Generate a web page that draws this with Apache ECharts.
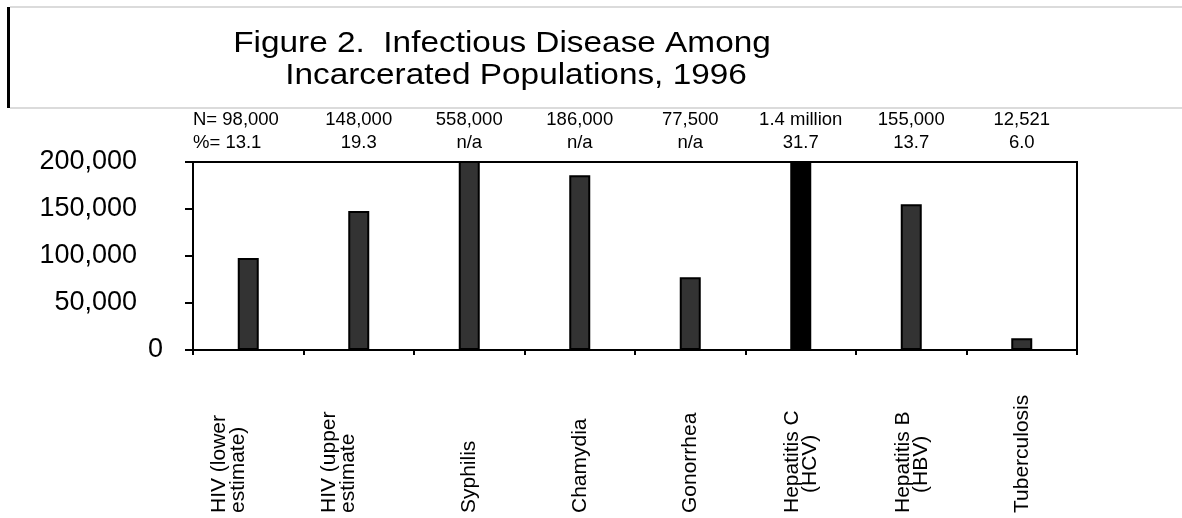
<!DOCTYPE html>
<html>
<head>
<meta charset="utf-8">
<script src="https://cdn.jsdelivr.net/npm/echarts@6/dist/echarts.min.js"></script>
<style>
html, body { margin: 0; padding: 0; background: #fff; }
#chart { width: 1182px; height: 518px; }
</style>
</head>
<body>
<div id="chart"></div>
<script>
const titleLines = ['Figure 2.  Infectious Disease Among', 'Incarcerated Populations, 1996'];
const categories = ['HIV (lower\nestimate)', 'HIV (upper\nestimate', 'Syphilis', 'Chamydia', 'Gonorrhea', 'Hepatitis C\n(HCV)', 'Hepatitis B\n(HBV)', 'Tuberculosis'];
const cases = [98000, 148000, 558000, 186000, 77500, 1400000, 155000, 12521];
const nLabels = ['N= 98,000', '148,000', '558,000', '186,000', '77,500', '1.4 million', '155,000', '12,521'];
const pctLabels = ['%= 13.1', '19.3', 'n/a', 'n/a', 'n/a', '31.7', '13.7', '6.0'];
const yMin = 0, yMax = 200000, yStep = 50000;

const FONT = '"Liberation Sans", Arial, sans-serif';
const chart = echarts.init(document.getElementById('chart'), null, { renderer: 'canvas' });

const option = {
  backgroundColor: '#fff',
  animation: false,
  graphic: [
    { type: 'rect', shape: { x: 7, y: 7, width: 3, height: 101 }, style: { fill: '#000' } },
    { type: 'line', shape: { x1: 10, y1: 7, x2: 1182, y2: 7 }, style: { stroke: '#cfcfcf', lineWidth: 1.5 } },
    { type: 'line', shape: { x1: 10, y1: 108, x2: 1182, y2: 108 }, style: { stroke: '#cfcfcf', lineWidth: 1.5 } },
    { type: 'text', x: 502, y: 44, scaleX: 1.15, style: { text: titleLines[0], align: 'center', verticalAlign: 'middle', fontSize: 29, fontFamily: FONT, fill: '#000' } },
    { type: 'text', x: 516, y: 76, scaleX: 1.15, style: { text: titleLines[1], align: 'center', verticalAlign: 'middle', fontSize: 29, fontFamily: FONT, fill: '#000' } }
  ],
  grid: {
    left: 193, right: 105, top: 162, bottom: 168,
    show: true, borderColor: '#000', borderWidth: 2, backgroundColor: 'transparent'
  },
  xAxis: {
    type: 'category',
    data: categories,
    boundaryGap: true,
    axisLine: { lineStyle: { color: '#000', width: 2 } },
    axisTick: { show: true, length: 5, lineStyle: { color: '#000', width: 2 } },
    axisLabel: {
      interval: 0, rotate: 90, align: 'left', verticalAlign: 'middle',
      margin: 163, fontSize: 21, lineHeight: 19, color: '#000', fontFamily: FONT,
      formatter: function (v, i) {
        const parts = v.split('\n');
        if (i < 2) return '{t|' + parts[0] + '}\n{t|' + parts[1] + '}\n{s| }';
        if (parts.length > 1) return '{t|' + parts[0] + '}\n{c|' + parts[1] + '}';
        return '{t|' + v + '}';
      },
      rich: {
        t: { fontSize: 21, fontFamily: FONT, color: '#000', lineHeight: 19 },
        c: { fontSize: 21, fontFamily: FONT, color: '#000', lineHeight: 17, padding: [0, 0, 0, 20] },
        s: { fontSize: 10, lineHeight: 40 }
      }
    },
    splitLine: { show: false }
  },
  yAxis: {
    type: 'value',
    min: yMin, max: yMax, interval: yStep,
    axisLine: { show: true, lineStyle: { color: '#000', width: 2 } },
    axisTick: { show: true, inside: false, length: 8, lineStyle: { color: '#000', width: 2 } },
    splitLine: { show: false },
    axisLabel: {
      margin: 30, color: '#000', fontSize: 27, fontFamily: FONT,
      formatter: function (v) {
        if (v === 0) return '{z|0}';
        return '{a|' + v.toLocaleString('en-US') + '}';
      },
      rich: {
        a: { fontSize: 27, fontFamily: FONT, color: '#000', padding: [0, 26, 0, 0] },
        z: { fontSize: 27, fontFamily: FONT, color: '#000' }
      }
    }
  },
  series: [
    {
      type: 'bar',
      data: cases,
      barWidth: 21,
      clip: true,
      itemStyle: {
        color: function (p) { return p.dataIndex === 5 ? '#000' : '#333'; },
        borderColor: '#000',
        borderWidth: 2
      }
    },
    {
      type: 'custom',
      clip: false,
      silent: true,
      data: categories.map(function (c, i) { return [i, yMax]; }),
      encode: { x: 0, y: 1 },
      renderItem: function (params, api) {
        const i = api.value(0);
        const p = api.coord([i, api.value(1)]);
        const bw = api.size([1, 0])[0];
        const first = i === 0;
        const x = first ? p[0] - bw / 2 : p[0];
        const st = { align: first ? 'left' : 'center', verticalAlign: 'middle', fontSize: 18.5, fontFamily: FONT, fill: '#000' };
        return {
          type: 'group',
          children: [
            { type: 'text', x: x, y: p[1] - 42, style: Object.assign({ text: nLabels[i] }, st) },
            { type: 'text', x: x, y: p[1] - 19, style: Object.assign({ text: pctLabels[i] }, st) }
          ]
        };
      }
    }
  ]
};
chart.setOption(option);
</script>
</body>
</html>
